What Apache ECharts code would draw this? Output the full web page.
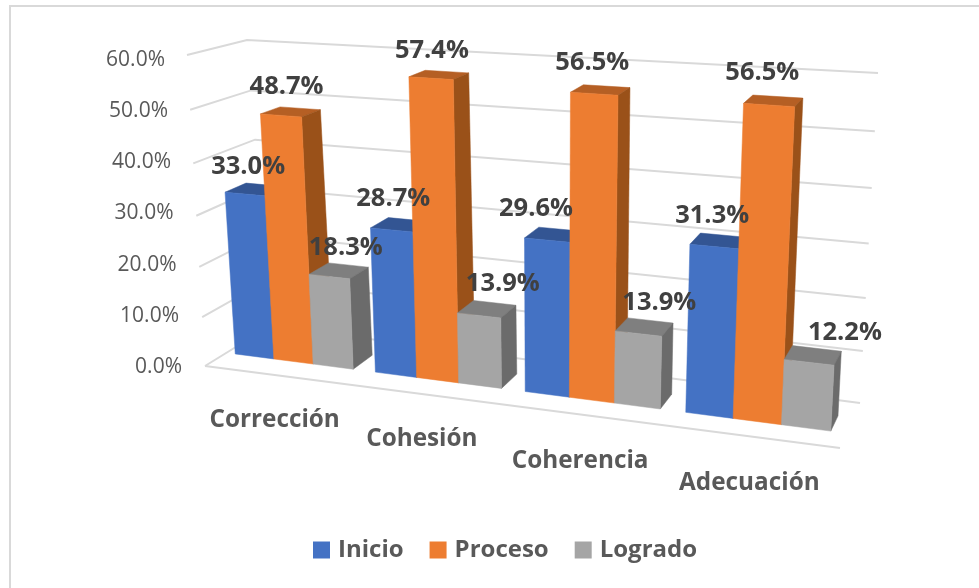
<!DOCTYPE html>
<html><head><meta charset="utf-8">
<script src="https://cdn.jsdelivr.net/npm/echarts@6/dist/echarts.min.js"></script>
<style>html,body{margin:0;padding:0;background:#fff}#c{width:979px;height:588px}</style>
</head><body><div id="c"></div>
<script>
const categories = ['Corrección', 'Cohesión', 'Coherencia', 'Adecuación'];
const seriesNames = ['Inicio', 'Proceso', 'Logrado'];
const inicio = [33.0, 28.7, 29.6, 31.3];
const proceso = [48.7, 57.4, 56.5, 56.5];
const logrado = [18.3, 13.9, 13.9, 12.2];
const yTicks = [0, 10, 20, 30, 40, 50, 60];

// ---- look ----
const FONT = '"Open Sans", sans-serif';
const faces = [
  { front: '#4472C4', top: '#335593', side: '#2F5290' },
  { front: '#ED7D31', top: '#B55F24', side: '#9A5119' },
  { front: '#A5A5A5', top: '#7F7F7F', side: '#6B6B6B' }
];
// Corners of the perspective box: f/b = front/back, B/T = bottom/top, L/R = left/right
const box = {
  fBL: [205, 366], fBR: [840, 448], bBL: [270, 326], bBR: [860, 403],
  fTL: [187, 55], fTR: [858, 98], bTL: [247, 40], bTR: [878, 73]
};
const K_U = 0.148, K_T = 0.07;
const BAR_W0 = 0.33, BAR_W1 = 0.67, BAR_START = 0.065, BAR_WIDTH = 0.282;
// hand-moved data labels in the original: offset from the top centre of each bar [dx, dy]
const labelNudge = [
  [[-7, -23], [-4, -25], [7, -23]],
  [[-7, -26], [-7, -24], [16, -25]],
  [[-18, -26], [-8, -27], [15, -24]],
  [[-7, -25], [-11, -28], [32, -23]]
];
// right padding / top padding of the axis labels, which follow the slanted walls and floor
const yLabelShift = [0, 3, 5.5, 8.5, 11, 14, 17];
const xLabelShift = [[0, 41], [-20, 60], [-29, 82], [-27, 104]];

function lerp(a, b, f) { return [a[0] + (b[0] - a[0]) * f, a[1] + (b[1] - a[1]) * f]; }
function project(u, t, w) {
  const uu = u / (1 + K_U * (1 - u));
  const tt = t / (1 + K_T * (1 - t));
  const fB = lerp(box.fBL, box.fBR, uu), fT = lerp(box.fTL, box.fTR, uu);
  const bB = lerp(box.bBL, box.bBR, uu), bT = lerp(box.bTL, box.bTR, uu);
  return lerp(lerp(fB, fT, tt), lerp(bB, bT, tt), w);
}
function fracs(params, px, py) {
  const g = params.coordSys;
  return [(px - g.x) / g.width, (g.y + g.height - py) / g.height];
}
function poly(points, fill, z2) {
  return { type: 'polygon', z2: z2, shape: { points: points }, style: { fill: fill, stroke: fill, lineWidth: 0.5 } };
}

function barSeries(name, values, s) {
  return {
    type: 'custom', name: name, coordinateSystem: 'cartesian2d', clip: false,
    encode: { x: 0, y: 1 },
    data: values.map((v, i) => [i, v]),
    itemStyle: { color: faces[s].front },
    renderItem(params, api) {
      const i = api.value(0), v = api.value(1);
      const c = api.coord([i, v]);
      const band = api.size([1, 0])[0];
      const left = c[0] + (BAR_START - 0.5 + s * BAR_WIDTH) * band;
      const f0 = fracs(params, left, c[1]);
      const f1 = fracs(params, left + BAR_WIDTH * band, c[1]);
      const u0 = f0[0], u1 = f1[0], t = f0[1];
      const z = i * 10 + s;
      const W0 = BAR_W0, W1 = BAR_W1;
      const topC = project((u0 + u1) / 2, t, (W0 + W1) / 2);
      const n = labelNudge[i][s];
      return {
        type: 'group',
        children: [
          poly([project(u0, t, W0), project(u1, t, W0), project(u1, t, W1), project(u0, t, W1)], faces[s].top, z),
          poly([project(u1, 0, W0), project(u1, t, W0), project(u1, t, W1), project(u1, 0, W1)], faces[s].side, z),
          poly([project(u0, 0, W0), project(u1, 0, W0), project(u1, t, W0), project(u0, t, W0)], faces[s].front, z),
          { type: 'text', z2: 1000, x: topC[0] + n[0], y: topC[1] + n[1],
            style: { text: v.toFixed(1) + '%', fill: '#404040', font: '700 25.5px ' + FONT, align: 'center', verticalAlign: 'middle' } }
        ]
      };
    }
  };
}

const wallSeries = {
  type: 'custom', name: 'grid', coordinateSystem: 'cartesian2d', clip: false, silent: true, z: 1,
  encode: { y: 0 },
  data: yTicks.map(v => [v]),
  renderItem(params, api) {
    const v = api.value(0);
    const c = api.coord([0, v]);
    const t = fracs(params, c[0], c[1])[1];
    const line = { stroke: '#D9D9D9', lineWidth: 2, fill: null };
    const kids = [{ type: 'polyline', shape: { points: [project(0, t, 0), project(0, t, 1), project(1, t, 1)] }, style: line }];
    if (v === 0) kids.push({ type: 'line', shape: { x1: box.fBL[0], y1: box.fBL[1], x2: box.fBR[0], y2: box.fBR[1] }, style: line });
    return { type: 'group', children: kids };
  }
};

const yRich = {};
yLabelShift.forEach((sh, k) => { yRich['t' + k] = { padding: [0, sh, 0, 0], fontSize: 21, fontFamily: FONT, color: '#595959' }; });
const xRich = {};
xLabelShift.forEach((sh, k) => {
  xRich['c' + k] = {
    padding: [sh[1], sh[0] < 0 ? -2 * sh[0] : 0, 0, sh[0] > 0 ? 2 * sh[0] : 0],
    fontSize: 24.3, fontWeight: 700, fontFamily: FONT, color: '#595959'
  };
});

const chart = echarts.init(document.getElementById('c'), null, { renderer: 'canvas' });
chart.setOption({
  animation: false,
  backgroundColor: '#fff',
  graphic: [{ type: 'polyline', silent: true, z: 0, shape: { points: [[10, 588], [10, 6], [979, 6]] }, style: { stroke: '#D9D9D9', lineWidth: 2, fill: null } }],
  grid: { left: 191, right: 119, top: 60, bottom: 221, containLabel: false },
  legend: {
    data: seriesNames, left: 308, top: 533, itemWidth: 17, itemHeight: 17, itemGap: 26, icon: 'rect',
    textStyle: { fontFamily: FONT, fontWeight: 700, fontSize: 24, color: '#595959', padding: [0, 0, 0, 3] }
  },
  xAxis: {
    type: 'category', data: categories,
    axisLine: { show: false }, axisTick: { show: false }, splitLine: { show: false },
    axisLabel: { margin: 0, interval: 0, formatter: (val, idx) => '{c' + idx + '|' + val + '}', rich: xRich }
  },
  yAxis: {
    type: 'value', min: 0, max: 60, interval: 10,
    axisLine: { show: false }, axisTick: { show: false }, splitLine: { show: false },
    axisLabel: { margin: 9, formatter: (val) => '{t' + (val / 10) + '|' + val.toFixed(1) + '%}', rich: yRich }
  },
  series: [wallSeries, barSeries(seriesNames[0], inicio, 0), barSeries(seriesNames[1], proceso, 1), barSeries(seriesNames[2], logrado, 2)]
});
</script></body></html>
